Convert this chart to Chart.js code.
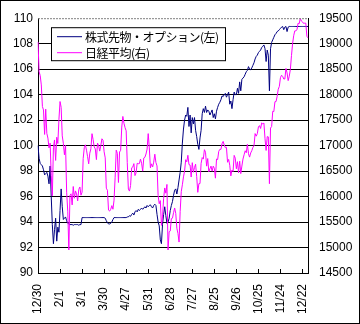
<!DOCTYPE html>
<html>
<head>
<meta charset="utf-8">
<script src="https://cdn.jsdelivr.net/npm/chart.js@4.4.1/dist/chart.umd.min.js"></script>
<style>
  html, body { margin: 0; padding: 0; background: #fff; }
  #wrap { width: 360px; height: 324px; position: relative; }
</style>
</head>
<body>
<div id="wrap"><canvas id="chart"></canvas></div>
<script>
// x axis: one label every 20 trading days
var tickLabels = ['12/30', '2/1', '3/1', '3/30', '4/27', '5/31', '6/28', '7/27', '8/25', '9/26', '10/25', '11/24', '12/22'];
var tickEvery = 20;

var seriesNames = ['株式先物・オプション(左)', '日経平均(右)'];

// left axis (index, 12/30 = 100)
var fundValues = [
  100.0, 99.0, 98.6, 98.5, 98.4, 98.1, 97.7, 97.8, 97.9, 97.6,
  97.0, 98.4, 96.0, 93.8, 92.3, 93.4, 94.3, 92.5, 93.6, 93.2,
  94.9, 96.6, 95.2, 94.2, 94.3, 94.4, 94.1, 93.9, 93.85, 93.8,
  93.8, 93.8, 93.75, 93.8, 93.8, 93.8, 93.8, 93.75, 93.8, 93.8,
  94.35, 94.35, 94.35, 94.35, 94.35, 94.35, 94.35, 94.35, 94.35, 94.35,
  94.35, 94.35, 94.35, 94.35, 94.35, 94.35, 94.35, 94.35, 94.35, 94.35,
  94.35, 94.3, 94.1, 93.95, 93.85, 93.85, 93.9, 94.0, 94.2, 94.35,
  94.35, 94.35, 94.35, 94.35, 94.35, 94.35, 94.35, 94.35, 94.35, 94.35,
  94.35, 94.4, 94.4, 94.5, 94.45, 94.6, 94.7, 94.55, 94.8, 94.9,
  94.8, 95.0, 94.9, 95.0, 95.1, 95.0, 95.1, 95.2, 95.1, 95.3,
  95.2, 95.3, 95.35, 95.2, 95.1, 95.3, 95.4, 95.3, 94.6, 94.0,
  93.7, 92.6, 92.3, 93.8, 94.6, 95.2, 94.5, 93.9, 94.0, 94.3,
  94.9, 95.3, 95.6, 96.1, 96.5, 96.6, 96.2, 96.7, 97.3, 97.9,
  98.7, 100.2, 101.3, 102.0, 102.4, 102.3, 103.0, 101.5, 102.4, 101.0,
  102.2, 101.7, 102.2, 101.2, 100.7, 100.1, 99.7, 100.6, 101.2, 102.5,
  102.9, 102.6, 103.1, 102.6, 102.8, 102.7, 102.4, 102.6, 102.8, 102.2,
  102.5, 102.1, 102.7, 103.0, 103.25, 103.4, 103.6, 103.9, 103.85, 104.0,
  104.1, 103.8, 104.0, 104.2, 103.25, 103.5, 102.9, 103.6, 104.2, 104.0,
  104.0, 104.5, 104.1, 105.0, 104.3, 105.2, 105.3, 105.4, 105.6, 105.8,
  105.9, 106.2, 106.0, 105.95, 106.1, 106.3, 106.5, 106.8, 107.0, 107.1,
  107.3, 107.4, 107.5, 107.7, 107.8, 107.9, 107.6, 106.6, 107.5, 107.1,
  104.3, 107.6, 108.1, 108.3, 108.5, 108.7, 108.8, 108.95, 109.0, 109.1,
  109.2, 109.3, 109.35, 109.1, 109.3, 109.35, 108.95, 109.3, 109.35, 109.35,
  109.35, 109.35, 109.35, 109.35, 109.35, 109.35, 109.35, 109.35, 109.35, 109.35,
  109.35, 109.35, 109.35, 109.35, 109.35, 109.35
];

// right axis (yen)
var nikkeiValues = [
  19034,
  18451, 18374, 18191, 17767, 17698, 17219, 17716, 17241, 17147, 16956,
  17048, 16416, 16017, 16959, 17111, 16709, 17164, 17041, 17518,
  17865, 17751, 17191, 17045, 16820, 17004, 16085, 15713, 14953, 16023,
  16054, 15836, 16197, 15967, 16111, 16052, 15916, 16140, 16188, 16027,
  16086, 16747, 16960, 17015, 16911, 16783, 16642, 16852, 16939, 17234,
  17117, 16974, 16936, 16725, 17049, 17001, 16892, 17003, 17134, 17104,
  16879, 16759,
  16164, 16123, 15733, 15715, 15750, 15822, 15751, 15929, 16381, 16911,
  16848, 16276, 16874, 16907, 17364, 17572, 17439, 17353, 17290, 16666,
  16147, 16107, 16216, 16565, 16579, 16646, 16412, 16466, 16653, 16645,
  16647, 16736, 16655, 16499, 16757, 16772, 16835, 16932, 17235,
  16956, 16563, 16642, 16580, 16675, 16831, 16668, 16601, 16019, 15859,
  15920, 15434, 15600, 15965, 16169, 16066, 16238, 14952, 15309, 15323,
  15567, 15576,
  15682, 15776, 15669, 15379, 15276, 15107, 15709, 16096, 16231, 16386,
  16498, 16723, 16682, 16810, 16627, 16620, 16383, 16665, 16477, 16569,
  16636, 16391, 16083, 16254, 16255, 16651, 16765, 16735, 16920, 16870,
  16597, 16746, 16486, 16546, 16598, 16497, 16597, 16556, 16361, 16737,
  16725, 16887,
  16927, 16926, 17038, 17082, 17012, 16959, 16966, 16673, 16729, 16614,
  16405, 16519, 16492, 16808, 16754, 16545, 16684, 16465, 16694, 16450,
  16599, 16736, 16819, 16899, 16860, 17025, 16840, 16774, 16856, 16900,
  16964, 16999, 17236, 17185, 17234, 17365, 17392, 17336, 17446, 17425,
  17442, 17135, 16905, 17177, 17171, 16252, 17344, 17375, 17673, 17668,
  17862, 17863, 17967, 18106, 18163, 18333, 18381, 18357, 18307, 18308,
  18513, 18426, 18275, 18361, 18497, 18765, 18996, 19155, 19251, 19254,
  19274, 19401, 19392, 19495, 19444, 19428, 19397, 19403, 19402, 19145,
  19114
];

var numFont = { family: "'Liberation Sans', Arial, sans-serif", size: 12 };

// plot frame extras, inner tick marks, legend box, outer border
var framePlugin = {
  id: 'frame',
  afterDraw: function(chart) {
    var ctx = chart.ctx;
    var area = chart.chartArea;
    var xs = chart.scales.x;
    ctx.save();

    ctx.strokeStyle = '#808080';
    ctx.lineWidth = 1;
    ctx.setLineDash([2, 1]);
    ctx.beginPath();
    ctx.moveTo(area.left, area.top + 0.5);
    ctx.lineTo(area.right, area.top + 0.5);
    ctx.stroke();
    ctx.setLineDash([]);

    ctx.strokeStyle = '#000';
    ctx.beginPath();
    for (var i = 0; i < tickLabels.length; i++) {
      var px = Math.round(xs.getPixelForValue(i * tickEvery)) + 0.5;
      ctx.moveTo(px, area.bottom);
      ctx.lineTo(px, area.bottom - 4);
    }
    ctx.stroke();

    // legend
    var lx = area.left + 13, ly = area.top + 9;
    ctx.font = "12px 'Noto Sans CJK JP', sans-serif";
    if ('letterSpacing' in ctx) ctx.letterSpacing = '-0.5px';
    var maxW = 0;
    chart.data.datasets.forEach(function(ds) {
      maxW = Math.max(maxW, ctx.measureText(ds.label).width);
    });
    var boxW = Math.round(34 + maxW + 6), boxH = 33;
    ctx.fillStyle = '#fff';
    ctx.fillRect(lx, ly, boxW, boxH);
    ctx.strokeStyle = '#000';
    ctx.strokeRect(lx + 0.5, ly + 0.5, boxW, boxH);
    chart.data.datasets.forEach(function(ds, k) {
      var yy = ly + 9 + k * 16;
      ctx.strokeStyle = ds.borderColor;
      ctx.lineWidth = 1;
      ctx.beginPath();
      ctx.moveTo(lx + 6, yy + 0.5);
      ctx.lineTo(lx + 31, yy + 0.5);
      ctx.stroke();
      ctx.fillStyle = '#000';
      ctx.textBaseline = 'middle';
      ctx.textAlign = 'left';
      ctx.fillText(ds.label, lx + 34, yy + 1);
    });
    if ('letterSpacing' in ctx) ctx.letterSpacing = '0px';

    ctx.strokeStyle = '#000';
    ctx.strokeRect(0.5, 0.5, chart.width - 1, chart.height - 1);
    ctx.restore();
  }
};

new Chart(document.getElementById('chart'), {
  type: 'line',
  data: {
    labels: fundValues.map(function(v, i) { return i; }),
    datasets: [{
      label: seriesNames[0],
      data: fundValues,
      yAxisID: 'y',
      borderColor: '#000080',
      borderWidth: 1,
      pointRadius: 0,
      fill: false,
      order: 1
    }, {
      label: seriesNames[1],
      data: nikkeiValues,
      yAxisID: 'y1',
      borderColor: '#ff00ff',
      borderWidth: 1,
      pointRadius: 0,
      fill: false,
      order: 0
    }]
  },
  options: {
    responsive: true,
    maintainAspectRatio: false,
    animation: false,
    devicePixelRatio: 1,
    layout: { padding: { top: 15, left: 0, right: 0, bottom: 0 } },
    plugins: { legend: { display: false }, tooltip: { enabled: false } },
    scales: {
      x: {
        type: 'category',
        offset: false,
        grid: { display: false },
        border: { color: '#000' },
        ticks: {
          autoSkip: false,
          minRotation: 90,
          maxRotation: 90,
          padding: 3,
          color: '#000',
          font: numFont,
          callback: function(v, i) {
            if (i % tickEvery !== 0) return '';
            var s = tickLabels[i / tickEvery];
            return s + '     '.slice(0, 5 - s.length);
          }
        },
        afterFit: function(s) { s.height = 51; }
      },
      y: {
        position: 'left',
        min: 90,
        max: 110,
        ticks: { stepSize: 2, padding: 5, color: '#000', font: numFont },
        grid: {
          drawTicks: false,
          color: function(c) { return c.tick && c.tick.value === 110 ? 'rgba(0,0,0,0)' : '#000'; }
        },
        border: { color: '#000' },
        afterFit: function(s) { s.width = 38; }
      },
      y1: {
        position: 'right',
        min: 14500,
        max: 19500,
        ticks: {
          stepSize: 500, padding: 11, color: '#000', font: numFont,
          callback: function(v) { return String(v); }
        },
        grid: { drawOnChartArea: false, drawTicks: false },
        border: { color: '#000' },
        afterFit: function(s) { s.width = 52; }
      }
    }
  },
  plugins: [framePlugin]
});
</script>
</body>
</html>
